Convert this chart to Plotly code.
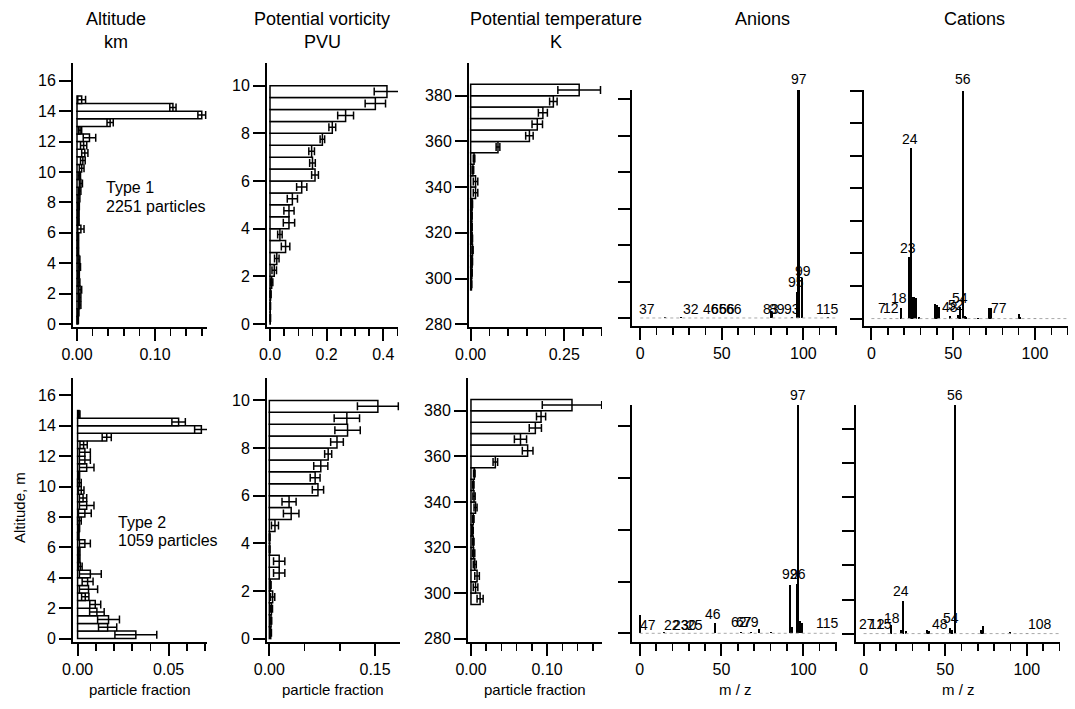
import plotly.graph_objects as go

W, H = 1075, 709
FONT = "Liberation Sans, Arial, Helvetica, sans-serif"

# ---------------- data ----------------
alt_centers = [0.25, 0.75, 1.25, 1.75, 2.25, 2.75, 3.25, 3.75, 4.25, 4.75,
               5.25, 5.75, 6.25, 6.75, 7.25, 7.75, 8.25, 8.75, 9.25, 9.75,
               10.25, 10.75, 11.25, 11.75, 12.25, 12.75, 13.25, 13.75, 14.25, 14.75]
alt_type1 = [0.001, 0.0015, 0.0035, 0.0035, 0.004, 0.0025, 0.002, 0.003, 0.0025, 0.0013,
             0.0013, 0.0013, 0.005, 0.0017, 0.0017, 0.002, 0.0025, 0.0035, 0.005, 0.003,
             0.006, 0.0075, 0.01, 0.0085, 0.016, 0.004, 0.0425, 0.16, 0.123, 0.006]
alt_type1_err = [0.0008, 0.001, 0.0015, 0.0015, 0.002, 0.0012, 0.001, 0.0015, 0.0012, 0.0008,
                 0.0008, 0.0008, 0.004, 0.001, 0.001, 0.001, 0.0012, 0.0015, 0.002, 0.0015,
                 0.003, 0.003, 0.004, 0.004, 0.008, 0.002, 0.004, 0.005, 0.004, 0.005]
alt_type2 = [0.032, 0.0165, 0.017, 0.0106, 0.0097, 0.0042, 0.006, 0.0055, 0.007, 0.0015,
             0.0008, 0.0008, 0.004, 0.0004, 0.0006, 0.001, 0.004, 0.005, 0.003, 0.002,
             0.001, 0.0006, 0.005, 0.004, 0.004, 0.0033, 0.016, 0.068, 0.0555, 0.0008]
alt_type2_err = [0.0115, 0.005, 0.006, 0.004, 0.003, 0.002, 0.005, 0.003, 0.006, 0.001,
                 0.0005, 0.0005, 0.003, 0.0004, 0.0005, 0.001, 0.0035, 0.004, 0.002, 0.0015,
                 0.001, 0.0005, 0.004, 0.003, 0.003, 0.002, 0.0025, 0.0037, 0.0037, 0.0005]

pv_centers = [0.25, 0.75, 1.25, 1.75, 2.25, 2.75, 3.25, 3.75, 4.25, 4.75,
              5.25, 5.75, 6.25, 6.75, 7.25, 7.75, 8.25, 8.75, 9.25, 9.75]
pv_type1 = [0.001, 0.001, 0.002, 0.006, 0.015, 0.024, 0.055, 0.035, 0.067, 0.067,
            0.079, 0.112, 0.159, 0.15, 0.147, 0.185, 0.22, 0.267, 0.372, 0.413]
pv_type1_err = [0.001, 0.001, 0.002, 0.004, 0.008, 0.008, 0.015, 0.008, 0.02, 0.018,
                0.018, 0.018, 0.012, 0.01, 0.01, 0.008, 0.012, 0.028, 0.036, 0.045]
pv_type2 = [0.002, 0.0024, 0.003, 0.0047, 0.0015, 0.014, 0.014, 0.0005, 0.0005, 0.008,
            0.031, 0.028, 0.069, 0.065, 0.073, 0.0835, 0.096, 0.111, 0.11, 0.154]
pv_type2_err = [0.001, 0.001, 0.0015, 0.003, 0.001, 0.008, 0.008, 0.0005, 0.0005, 0.005,
                0.011, 0.01, 0.008, 0.007, 0.01, 0.005, 0.009, 0.018, 0.018, 0.029]

pt_centers = [297.5, 302.5, 307.5, 312.5, 317.5, 322.5, 327.5, 332.5, 337.5,
              342.5, 347.5, 352.5, 357.5, 362.5, 367.5, 372.5, 377.5, 382.5]
pt_type1 = [0.002, 0.003, 0.004, 0.005, 0.004, 0.003, 0.003, 0.004, 0.013,
            0.013, 0.006, 0.009, 0.073, 0.157, 0.178, 0.193, 0.221, 0.29]
pt_type1_err = [0.001, 0.001, 0.001, 0.0015, 0.001, 0.001, 0.001, 0.001, 0.006,
                0.006, 0.002, 0.002, 0.005, 0.01, 0.014, 0.012, 0.01, 0.057]
pt_type2 = [0.012, 0.006, 0.008, 0.005, 0.0035, 0.003, 0.002, 0.003, 0.006,
            0.004, 0.003, 0.0044, 0.032, 0.0744, 0.065, 0.0845, 0.092, 0.1326]
pt_type2_err = [0.004, 0.003, 0.003, 0.002, 0.0015, 0.001, 0.001, 0.001, 0.002,
                0.0015, 0.001, 0.001, 0.003, 0.007, 0.008, 0.008, 0.006, 0.039]

# mass spectra (m/z, relative intensity)
an1_mz = [15, 25, 80, 81, 93, 96, 97, 99, 115]
an1_int = [0.03, 0.03, 0.2, 0.15, 0.03, 0.71, 6.25, 1.09, 0.03]
an1_lab_text = ["37", "32", "46", "65", "66", "66", "83", "89", "93", "95", "99", "97", "115"]
an1_lab_mz = [4, 31, 43.5, 48, 53, 57.5, 80, 84, 93, 95.3, 99.5, 97, 115]
an1_lab_y = [0.26, 0.26, 0.26, 0.26, 0.26, 0.26, 0.26, 0.26, 0.26, 0.99, 1.29, 6.55, 0.26]

cat1_mz = [12, 18, 23, 24, 25, 26, 27, 29, 39, 40, 41, 48, 53, 54, 56, 57, 58, 65, 72, 73, 90, 91, 100]
cat1_int = [0.03, 0.31, 1.9, 5.23, 0.65, 0.65, 0.62, 0.05, 0.46, 0.41, 0.36, 0.07, 0.1, 0.36,
            7.0, 0.07, 0.05, 0.03, 0.31, 0.34, 0.13, 0.05, 0.03]
cat1_lab_text = ["7", "12", "18", "23", "24", "48", "52", "54", "77", "56"]
cat1_lab_mz = [6.5, 12, 17, 22.5, 23.5, 48, 51.5, 54, 78, 56]
cat1_lab_y = [0.32, 0.32, 0.62, 2.17, 5.52, 0.36, 0.43, 0.62, 0.32, 7.35]

an2_mz = [0, 15, 46, 62, 68, 73, 80, 92, 93, 96, 97, 98, 99]
an2_int = [0.35, 0.03, 0.19, 0.03, 0.02, 0.08, 0.03, 0.94, 0.12, 0.96, 4.41, 0.23, 0.19]
an2_lab_text = ["47", "22", "23", "30", "25", "46", "62", "67", "79", "92", "96", "97", "115"]
an2_lab_mz = [5, 20, 25, 30, 34, 45, 60.5, 64, 68, 92, 96.5, 97, 115]
an2_lab_y = [0.16, 0.16, 0.16, 0.16, 0.16, 0.38, 0.22, 0.22, 0.22, 1.15, 1.15, 4.6, 0.19]

cat2_mz = [17, 23, 24, 26, 39, 40, 53, 54, 56, 72, 73, 90, 100]
cat2_int = [0.25, 0.12, 0.96, 0.08, 0.12, 0.07, 0.15, 0.12, 6.71, 0.1, 0.22, 0.05, 0.02]
cat2_lab_text = ["27", "12", "15", "18", "24", "48", "54", "108", "56"]
cat2_lab_mz = [1.8, 8.5, 12.5, 17.5, 23, 47, 53.5, 108, 56]
cat2_lab_y = [0.27, 0.27, 0.27, 0.46, 1.25, 0.29, 0.46, 0.29, 7.0]

titles = [("Altitude", "km"), ("Potential vorticity", "PVU"), ("Potential temperature", "K"),
          ("Anions", ""), ("Cations", "")]
type_labels = [("Type 1", "2251 particles"), ("Type 2", "1059 particles")]

# ---------------- layout helpers ----------------
def xdom(a, b):
    return [a / W, b / W]


def ydom(top, bottom):
    return [1 - bottom / H, 1 - top / H]


fig = go.Figure()

# panel geometry (pixel positions) and axis settings
panels = [
    # row 1
    dict(xd=(73, 207), yd=(63, 327), xr=(-0.00513, 0.1667), yr=(-0.197, 17.17),
         dt=0.1, mdt=0.02, fmt=".2f", ydt=2, y0=0, ylab=True),
    dict(xd=(267, 398), yd=(63, 327), xr=(-0.0106, 0.452), yr=(-0.126, 10.95),
         dt=0.2, mdt=0.05, fmt=".1f", ydt=2, y0=0, ylab=True),
    dict(xd=(469, 602), yd=(63, 327), xr=(-0.0045, 0.351), yr=(278.8, 394.3),
         dt=0.25, mdt=0.05, fmt=".2f", ydt=20, y0=280, ylab=True),
    dict(xd=(632, 837), yd=(90, 326), xr=(-5.08, 120.6), yr=(-0.22, 6.255),
         dt=50, mdt=10, fmt="d", ydt=1, y0=0, ylab=False),
    dict(xd=(864, 1068), yd=(90, 326), xr=(-4.53, 120.2), yr=(-0.228, 7.02),
         dt=50, mdt=10, fmt="d", ydt=1, y0=0, ylab=False),
    # row 2
    dict(xd=(73, 207), yd=(378, 642), xr=(-0.00253, 0.0711), yr=(-0.224, 17.14),
         dt=0.05, mdt=0.01, fmt=".2f", ydt=2, y0=0, ylab=True),
    dict(xd=(267, 400), yd=(378, 642), xr=(-0.0033, 0.1854), yr=(-0.143, 10.94),
         dt=0.15, mdt=0.05, fmt=".2f", ydt=2, y0=0, ylab=True),
    dict(xd=(468, 602), yd=(378, 642), xr=(-0.0039, 0.172), yr=(278.5, 394.4),
         dt=0.1, mdt=0.02, fmt=".2f", ydt=20, y0=280, ylab=True),
    dict(xd=(632, 837), yd=(405, 642), xr=(-4.7, 120.6), yr=(-0.168, 4.41),
         dt=50, mdt=10, fmt="d", ydt=1, y0=0, ylab=False),
    dict(xd=(856, 1060), yd=(405, 642), xr=(-4.65, 120.4), yr=(-0.247, 6.71),
         dt=50, mdt=10, fmt="d", ydt=1, y0=0, ylab=False),
]

tickfont = dict(family=FONT, size=16, color="black")
layout_axes = {}
for i, p in enumerate(panels):
    n = i + 1
    xa = "xaxis" if n == 1 else f"xaxis{n}"
    ya = "yaxis" if n == 1 else f"yaxis{n}"
    xref = "x" if n == 1 else f"x{n}"
    yref = "y" if n == 1 else f"y{n}"
    layout_axes[xa] = dict(
        domain=xdom(*p["xd"]), range=list(p["xr"]), anchor=yref, automargin=False,
        showline=True, linecolor="black", linewidth=2,
        ticks="outside", ticklen=12, tickwidth=2, tickcolor="black",
        tick0=0, dtick=p["dt"], tickformat=p["fmt"],
        minor=dict(dtick=p["mdt"], tick0=0, ticks="outside", ticklen=7,
                   tickwidth=1.5, tickcolor="black", showgrid=False),
        showgrid=False, zeroline=False, tickfont=tickfont, fixedrange=True,
    )
    layout_axes[ya] = dict(
        domain=ydom(*p["yd"]), range=list(p["yr"]), anchor=xref, automargin=False,
        showline=True, linecolor="black", linewidth=2,
        ticks="outside", ticklen=12, tickwidth=2, tickcolor="black",
        tick0=p["y0"], dtick=p["ydt"], showticklabels=p["ylab"],
        showgrid=False, zeroline=False, tickfont=tickfont, fixedrange=True,
    )

# ---------------- histogram traces ----------------
hist_sets = [
    (1, alt_centers, alt_type1, alt_type1_err, 0.5),
    (2, pv_centers, pv_type1, pv_type1_err, 0.5),
    (3, pt_centers, pt_type1, pt_type1_err, 5),
    (6, alt_centers, alt_type2, alt_type2_err, 0.5),
    (7, pv_centers, pv_type2, pv_type2_err, 0.5),
    (8, pt_centers, pt_type2, pt_type2_err, 5),
]
for n, cats, vals, errs, w in hist_sets:
    fig.add_trace(go.Bar(
        orientation="h", x=vals, y=cats, width=w,
        marker=dict(color="white", line=dict(color="black", width=1.5)),
        error_x=dict(type="data", array=errs, color="black", thickness=1.5, width=4),
        xaxis="x" if n == 1 else f"x{n}", yaxis="y" if n == 1 else f"y{n}",
        showlegend=False, hoverinfo="skip",
    ))

# ---------------- spectra ----------------
spec_sets = [
    (4, an1_mz, an1_int, an1_lab_text, an1_lab_mz, an1_lab_y),
    (5, cat1_mz, cat1_int, cat1_lab_text, cat1_lab_mz, cat1_lab_y),
    (9, an2_mz, an2_int, an2_lab_text, an2_lab_mz, an2_lab_y),
    (10, cat2_mz, cat2_int, cat2_lab_text, cat2_lab_mz, cat2_lab_y),
]
annotations = []
shapes = []
for n, mz, inten, ltxt, lmz, ly in spec_sets:
    xr, yr = f"x{n}", f"y{n}"
    p = panels[n - 1]
    y_lo, y_hi = p["yr"]
    px_per_unit = (p["yd"][1] - p["yd"][0]) / (y_hi - y_lo)
    shapes.append(dict(type="line", xref=xr, yref=yr, x0=0, x1=120, y0=0, y1=0,
                       line=dict(color="#aaaaaa", width=1, dash="dot")))
    fig.add_trace(go.Bar(
        x=mz, y=inten, width=1.3,
        marker=dict(color="black", line=dict(width=0)),
        xaxis=xr, yaxis=yr, showlegend=False, hoverinfo="skip",
    ))
    for t, xm, yv in zip(ltxt, lmz, ly):
        # labels above the axis top are anchored at the top and shifted up in pixels
        y_in = min(yv, y_hi - 1e-6)
        shift = (yv - y_in) * px_per_unit
        annotations.append(dict(text=t, x=xm, y=y_in, yshift=shift, xref=xr, yref=yr,
                                showarrow=False, xanchor="center", yanchor="middle",
                                font=dict(family=FONT, size=14, color="black")))

# ---------------- titles & labels ----------------
title_x = [116, 322, 556, 762, 975]
for (l1, l2), cx in zip(titles, title_x):
    annotations.append(dict(text=l1, x=cx / W, y=1 - 19 / H, xref="paper", yref="paper",
                            showarrow=False, xanchor="center", yanchor="middle",
                            font=dict(family=FONT, size=18, color="black")))
    if l2:
        annotations.append(dict(text=l2, x=cx / W, y=1 - 42 / H, xref="paper", yref="paper",
                                showarrow=False, xanchor="center", yanchor="middle",
                                font=dict(family=FONT, size=18, color="black")))

bottom_labels = [("particle fraction", 140), ("particle fraction", 333),
                 ("particle fraction", 535), ("m / z", 735), ("m / z", 958)]
for txt, cx in bottom_labels:
    annotations.append(dict(text=txt, x=cx / W, y=1 - 689 / H, xref="paper", yref="paper",
                            showarrow=False, xanchor="center", yanchor="middle",
                            font=dict(family=FONT, size=15, color="black")))

annotations.append(dict(text="Altitude, m", x=19 / W, y=1 - 508 / H, xref="paper", yref="paper",
                        showarrow=False, textangle=-90, xanchor="center", yanchor="middle",
                        font=dict(family=FONT, size=15, color="black")))

type_pos = [(104, 187, 206), (116, 522, 540)]
for (t1, t2), (lx, y1, y2) in zip(type_labels, type_pos):
    annotations.append(dict(text=t1, x=lx / W, y=1 - y1 / H, xref="paper", yref="paper",
                            showarrow=False, xanchor="left", yanchor="middle",
                            font=dict(family=FONT, size=16, color="black")))
    annotations.append(dict(text=t2, x=lx / W, y=1 - y2 / H, xref="paper", yref="paper",
                            showarrow=False, xanchor="left", yanchor="middle",
                            font=dict(family=FONT, size=16, color="black")))

fig.update_layout(
    width=W, height=H,
    margin=dict(l=0, r=0, t=0, b=0, autoexpand=False),
    paper_bgcolor="white", plot_bgcolor="white",
    showlegend=False, bargap=0,
    annotations=annotations, shapes=shapes,
    font=dict(family=FONT, color="black"),
    **layout_axes,
)

fig.write_html("out.html", config={"displayModeBar": False, "staticPlot": True},
               post_script="document.body.style.margin='0';")
